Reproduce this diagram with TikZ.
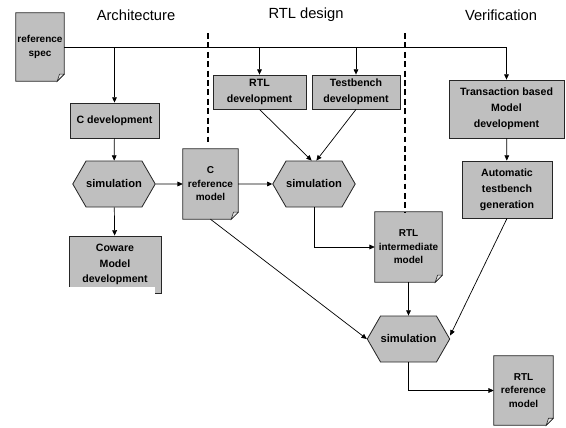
\documentclass[tikz,border=0pt]{standalone}
\usepackage{fontspec}
\setmainfont{Liberation Sans}
\usetikzlibrary{arrows.meta,shapes.symbols,backgrounds}

\tikzset{
  box/.style={draw=boxline, fill=boxfill, line width=0.7pt, align=center, inner sep=1pt,
    font=\bfseries\fontsize{9}{13.5}\selectfont},
  sim/.style={signal, signal to=east and west, signal pointer angle=120, draw=boxline,
    fill=boxfill, line width=0.7pt, minimum width=62.9pt, minimum height=39.1pt, inner sep=0pt,
    font=\bfseries\fontsize{9.5}{11}\selectfont},
  doc/.style={align=center, inner sep=1pt, font=\bfseries\fontsize{8.5}{11.5}\selectfont},
  flow/.style={-{Triangle[length=4.5pt,width=4pt]}, line width=0.6pt, draw=black},
  title/.style={font=\fontsize{12.5}{14}\selectfont},
}

\begin{document}
\begin{tikzpicture}[x=0.85pt, y=-0.85pt]
  % Define colors
  \colorlet{boxfill}{black!25}
  \colorlet{boxline}{black!85}
  \colorlet{foldfill}{black!10}

  \useasboundingbox (0,0) rectangle (566,427);

  % Column titles
  \node[title] (tarch) at (136,15) {Architecture};
  \node[title] (trtl) at (306,15) {RTL design};
  \node[title] (tver) at (501,15) {Verification};

  % Column dividers
  \draw[line width=1.6pt, dash pattern=on 5pt off 3pt] (208,33) -- (208,145);
  \draw[line width=1.6pt, dash pattern=on 5pt off 3pt] (405,33) -- (405,212);

  % Documents
  \node[doc, minimum width=40.8pt, minimum height=57.8pt] (spec) at (40,47) {reference\\spec};
  \node[doc, minimum width=46.75pt, minimum height=59.5pt] (cref) at (210.5,184) {C\\reference\\model};
  \node[doc, minimum width=57pt, minimum height=59.5pt] (rtlint) at (408.5,247) {RTL\\intermediate\\model};
  \node[doc, minimum width=50.2pt, minimum height=58.7pt] (rtlref) at (523.5,390.5) {RTL\\reference\\model};

  % Architecture column
  \node[box, minimum width=75.7pt, minimum height=29.8pt] (cdev) at (114.5,120.5) {C development};
  \node[sim] (simarch) at (114,184) {simulation};
  \node[box, minimum width=78.2pt, minimum height=48.5pt] (coware) at (115,264.5) {Coware\\Model\\development};
  \fill[white] (67,287) rectangle (155,297);

  % RTL design column
  \node[box, minimum width=79pt, minimum height=28.9pt] (rtldev) at (259.5,92) {RTL\\development};
  \node[box, minimum width=74.8pt, minimum height=28.9pt] (tbdev) at (356,92) {Testbench\\development};
  \node[sim] (simrtl) at (314,184) {simulation};

  % Verification column
  \node[box, minimum width=97.75pt, minimum height=49.3pt] (trans) at (506.5,109) {Transaction based\\Model\\development};
  \node[box, minimum width=76.5pt, minimum height=48.5pt] (autotb) at (507,189.5) {Automatic\\testbench\\generation};
  \node[sim] (simver) at (408.5,339) {simulation};

  % Document outlines with folded corner
  \begin{scope}[on background layer]
    \foreach \d in {spec,cref,rtlint,rtlref} {
      \filldraw[draw=boxline, fill=boxfill, line width=0.7pt]
        (\d.north west) -- (\d.north east) -- ([yshift=6pt]\d.south east)
        -- ([xshift=-6pt]\d.south east) -- (\d.south west) -- cycle;
      \filldraw[draw=boxline, fill=foldfill, line width=0.5pt]
        ([xshift=-6pt]\d.south east) -- ([yshift=6pt]\d.south east)
        -- ([xshift=-4pt,yshift=6pt]\d.south east) -- cycle;
    }
  \end{scope}

  % Specification bus
  \draw[flow] (spec.east) -| (trans.north);
  \draw[flow] (cdev.north |- spec.east) -- (cdev.north);
  \draw[flow] (rtldev.north |- spec.east) -- (rtldev.north);
  \draw[flow] (tbdev.north |- spec.east) -- (tbdev.north);

  % Flow arrows
  \draw[flow] (cdev) -- (simarch);
  \draw[flow] (simarch) -- (coware);
  \draw[flow] (simarch) -- (cref);
  \draw[flow] (cref) -- (simrtl);
  \draw[flow] (rtldev.south) -- ([xshift=-2pt]simrtl.north);
  \draw[flow] (tbdev.south) -- ([xshift=2pt]simrtl.north);
  \draw[flow] (simrtl.south) |- (rtlint.west);
  \draw[flow] (trans) -- (autotb);
  \draw[flow] (rtlint) -- (simver);
  \draw[flow] (cref.south) -- (simver.west);
  \draw[flow] (autotb.south) -- ([yshift=3pt]simver.east);
  \draw[flow] (simver.south) |- (rtlref.west);
\end{tikzpicture}
\end{document}
